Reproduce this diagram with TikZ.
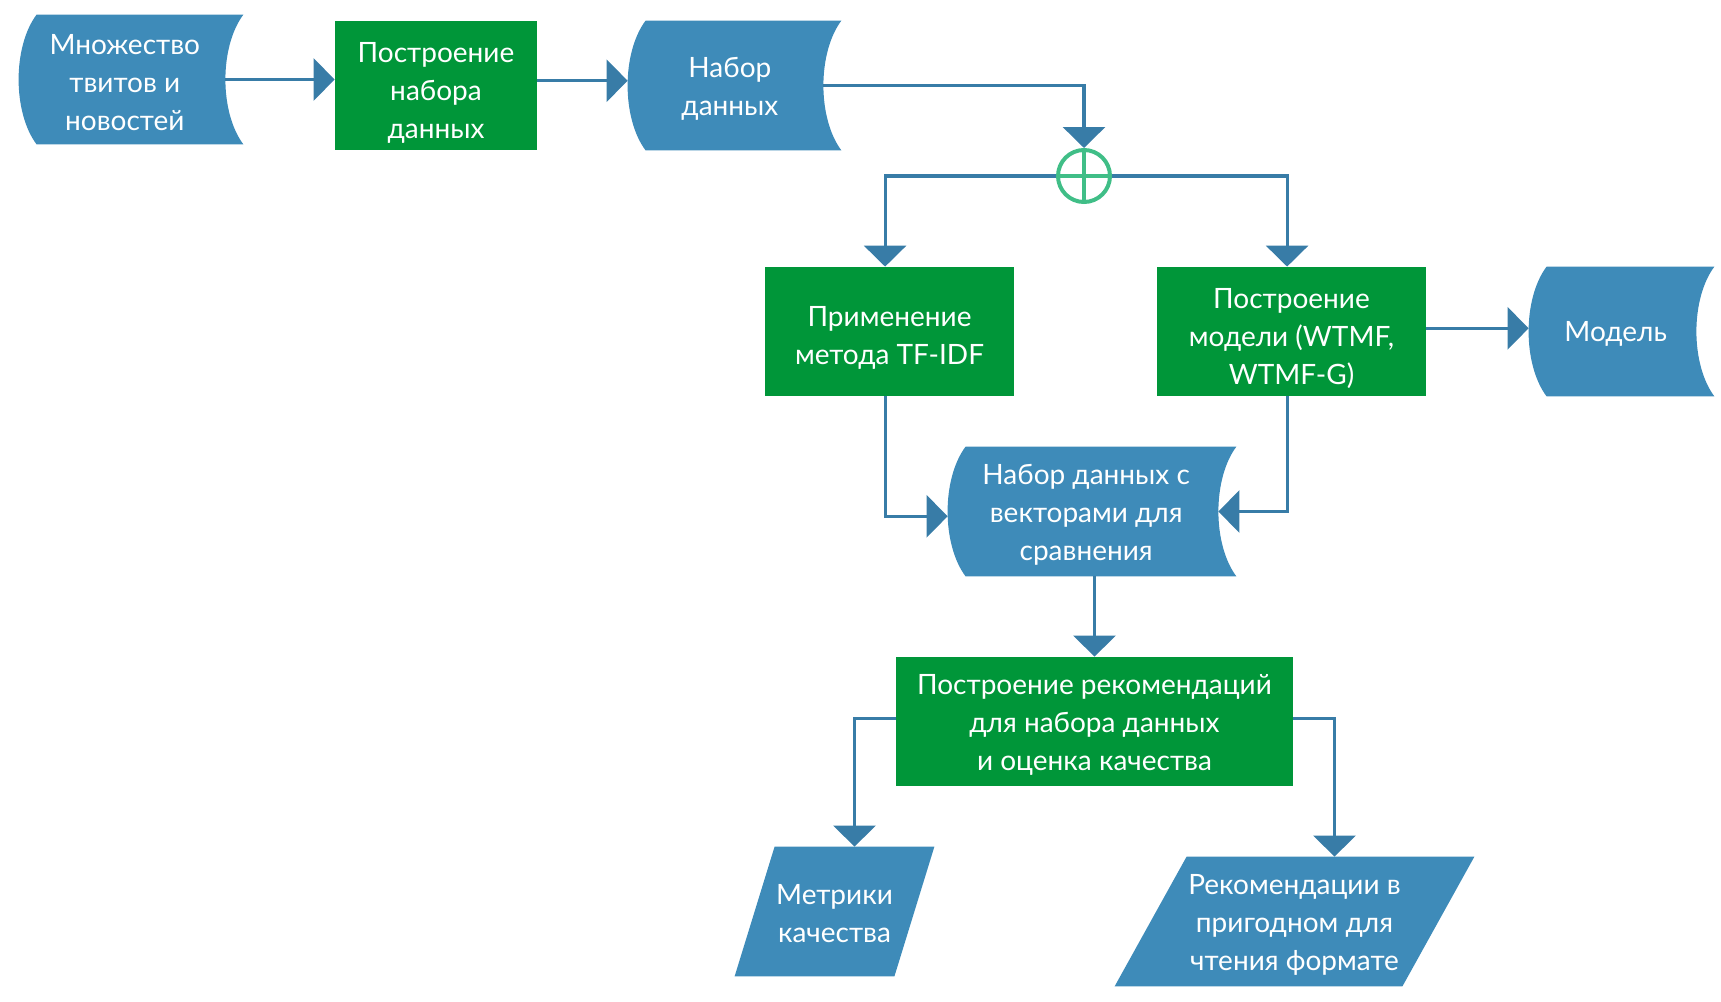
\documentclass[tikz,border=0pt]{standalone}
\usepackage{fontspec}
\setmainfont{Lato}
\usetikzlibrary{arrows.meta, calc, backgrounds}
\definecolor{storeblue}{RGB}{62,139,185}
\definecolor{procgreen}{RGB}{0,150,57}
\definecolor{lineblue}{RGB}{56,124,167}
\definecolor{joingreen}{RGB}{64,190,135}

\tikzset{
  txt/.style={text=white, align=center, inner sep=0pt, font=\fontsize{14}{19}\selectfont},
  block/.style={inner sep=0pt, minimum height=64.5pt},
  store/.style={block},
  proc/.style={block, fill=procgreen},
  flow/.style={draw=lineblue, line width=1.6pt, -{Triangle[length=10.5pt, width=21pt]}}
}

\begin{document}
\begin{tikzpicture}[x=0.5pt, y=-0.5pt]
  \useasboundingbox (0,0) rectangle (1721,1002);

  % Stored data
  \node[store, minimum width=103pt, label={[txt, xshift=1.4pt, yshift=-1.4pt]center:{Множество\\твитов и\\новостей}}]
        (tweets) at (122,79.5) {};
  \node[store, minimum width=97.5pt, label={[txt, xshift=2.2pt, yshift=-1.6pt]center:{Набор\\данных}}]
        (dataset) at (725.5,85.5) {};
  \node[store, minimum width=83.5pt, label={[txt, xshift=1.6pt, yshift=-1.2pt]center:{Модель}}]
        (model) at (1612.5,331.5) {};
  \node[store, minimum width=135pt, label={[txt, xshift=1.6pt, yshift=-1.6pt]center:{Набор данных с\\векторами для\\сравнения}}]
        (vectors) at (1083,511.5) {};

  % Processes
  \node[proc, minimum width=101pt, label={[txt, yshift=-3.5pt]center:{Построение\\набора\\данных}}]
        (build) at (436,85.5) {};
  \node[proc, minimum width=124.5pt, label={[txt, yshift=-3.3pt]center:{Применение\\метода TF-IDF}}]
        (tfidf) at (889.5,331.5) {};
  \node[proc, minimum width=134.5pt, label={[txt, yshift=-3.6pt]center:{Построение\\модели (WTMF,\\WTMF-G)}}]
        (wtmf) at (1291.5,331.5) {};
  \node[proc, minimum width=198.5pt, label={[txt, yshift=-1.6pt]center:{Построение рекомендаций\\для набора данных\\и оценка качества}}]
        (recs) at (1094.5,721.5) {};

  % Outputs
  \node[store, minimum width=79.5pt, label={[txt, yshift=-1.2pt]center:{Метрики\\качества}}]
        (metrics) at (834.5,911.5) {};
  \node[store, minimum width=143.5pt, label={[txt, yshift=-1.6pt]center:{Рекомендации в\\пригодном для\\чтения формате}}]
        (readable) at (1294.5,921.5) {};

  % Split
  \node[circle, draw=joingreen, line width=2pt, minimum size=26pt, inner sep=0pt,
        path picture={\draw[joingreen, line width=1.6pt]
          (path picture bounding box.north) -- (path picture bounding box.south)
          (path picture bounding box.west) -- (path picture bounding box.east);}]
        (split) at (1084,176) {};

  % Shapes behind the texts
  \begin{scope}[on background layer]
    \foreach \n in {tweets, dataset, model, vectors}{
      \fill[storeblue] ($(\n.north west)+(18,0)$) -- ($(\n.north east)+(18,0)$)
        .. controls ($(\n.north east)+(-6,32)$) and ($(\n.south east)+(-6,-32)$) .. ($(\n.south east)+(18,0)$)
        -- ($(\n.south west)+(18,0)$)
        .. controls ($(\n.south west)+(-6,-32)$) and ($(\n.north west)+(-6,32)$) .. cycle;
    }
    \foreach \n/\s in {metrics/20, readable/36}{
      \fill[storeblue] ($(\n.north west)+(\s,0)$) -- ($(\n.north east)+(\s,0)$)
        -- ($(\n.south east)+(-\s,0)$) -- ($(\n.south west)+(-\s,0)$) -- cycle;
    }
  \end{scope}

  % Connectors
  \draw[flow] (tweets.east) -- (tweets.east -| build.west);
  \draw[flow] ([yshift=2.4pt]build.east) -- ([yshift=2.4pt]dataset.west);
  \draw[flow] (dataset.east) -| (split.north);
  \draw[flow] (split.west) -| ([xshift=-2.2pt]tfidf.north);
  \draw[flow] (split.east) -| ([xshift=-2.2pt]wtmf.north);
  \draw[flow] ([yshift=1.6pt]wtmf.east) -- ([yshift=1.6pt]model.west);
  \draw[flow] ([xshift=-2.2pt]tfidf.south) |- ([yshift=-2.4pt]vectors.west);
  \draw[flow] ([xshift=-2.2pt]wtmf.south) |- (vectors.east);
  \draw[flow] (recs.north |- vectors.south) -- (recs.north);
  \draw[flow] ([yshift=1.6pt]recs.west) -| ([xshift=10pt]metrics.north);
  \draw[flow] ([yshift=1.6pt]recs.east) -| ([xshift=20pt]readable.north);
\end{tikzpicture}
\end{document}
